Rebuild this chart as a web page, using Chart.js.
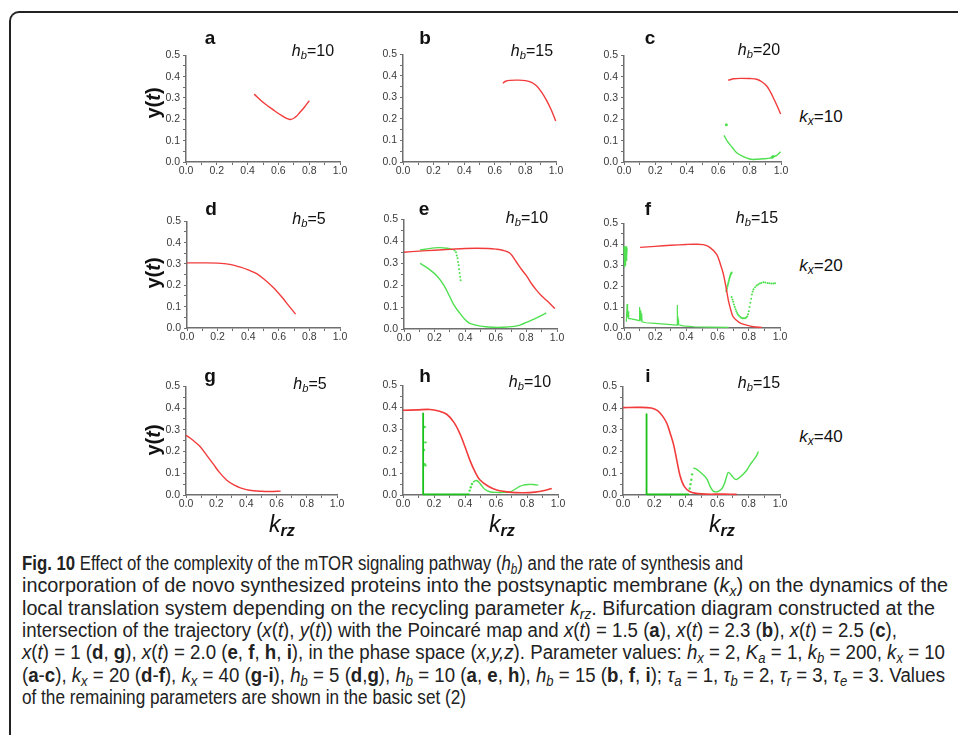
<!DOCTYPE html>
<html>
<head>
<meta charset="utf-8">
<script src="https://cdn.jsdelivr.net/npm/chart.js"></script>
<style>
body { margin:0; width:958px; height:735px; position:relative; overflow:hidden; background:#fff; font-family:"Liberation Sans", Arial, sans-serif; color:#111; }
.frame { position:absolute; left:9px; top:11px; width:990px; height:780px; border-top:2px solid #222; border-left:2px solid #222; border-top-left-radius:10px; }
canvas { position:absolute; }
.lbl { position:absolute; white-space:nowrap; line-height:1; transform:translate(-50%,-50%); }
.let { font-weight:bold; font-size:19px; }
.hb { font-size:16px; }
.kx { font-size:17px; }
.yt { font-size:20px; font-weight:bold; transform:translate(-50%,-50%) rotate(-90deg); }
.krz { font-size:23px; }
.lbl sub { font-size:0.7em; vertical-align:-0.3em; line-height:0; }
.cap { position:absolute; left:22px; height:22px; line-height:22px; font-family:"Liberation Sans Narrow","Liberation Sans",sans-serif; font-size:20px; color:#222; white-space:nowrap; transform-origin:0 50%; }
.cap sub { font-size:0.7em; vertical-align:-0.25em; line-height:0; }
</style>
</head>
<body>
<div class="frame"></div>

<script>
// values: [k_rz, y(t)]
const aRed = [[0.443,0.318],[0.5,0.28],[0.567,0.244],[0.62,0.218],[0.675,0.199],[0.71,0.21],[0.74,0.233],[0.77,0.258],[0.80,0.287]];

const bRed = [[0.652,0.366],[0.67,0.375],[0.70,0.379],[0.75,0.38],[0.80,0.378],[0.84,0.37],[0.874,0.353],[0.91,0.32],[0.94,0.284],[0.97,0.24],[0.998,0.19]];

const cRed = [[0.664,0.383],[0.70,0.39],[0.739,0.392],[0.80,0.391],[0.845,0.388],[0.88,0.375],[0.909,0.356],[0.935,0.325],[0.955,0.295],[0.977,0.26],[0.998,0.225]];
const cGreen = [[0.637,0.125],[0.66,0.095],[0.69,0.068],[0.718,0.043],[0.76,0.025],[0.8,0.014],[0.824,0.012],[0.887,0.015],[0.93,0.018],[0.947,0.024],[0.97,0.03],[0.998,0.048]];
const cGreenDots = [[0.652,0.175],[0.944,0.022],[0.95,0.026]];

const dRed = [[0,0.305],[0.1,0.305],[0.2,0.304],[0.28,0.298],[0.35,0.285],[0.4,0.272],[0.455,0.255],[0.51,0.225],[0.564,0.19],[0.62,0.145],[0.67,0.1],[0.71,0.065]];

const eRed = [[0,0.35],[0.1,0.355],[0.2,0.359],[0.3,0.363],[0.4,0.367],[0.475,0.368],[0.55,0.367],[0.6,0.364],[0.65,0.358],[0.693,0.345],[0.73,0.31],[0.77,0.27],[0.8,0.243],[0.835,0.205],[0.867,0.176],[0.9,0.15],[0.94,0.125],[0.987,0.093]];
const eGreenUp = [[0.105,0.36],[0.15,0.365],[0.2,0.37],[0.235,0.371],[0.28,0.368],[0.322,0.362]];
const eGreenDrop = [[0.33,0.358],[0.34,0.35],[0.345,0.335],[0.35,0.322],[0.353,0.305],[0.357,0.29],[0.36,0.272],[0.363,0.255],[0.367,0.238],[0.37,0.222]];
const eGreenLow = [[0.105,0.299],[0.15,0.28],[0.214,0.243],[0.26,0.2],[0.3,0.146],[0.33,0.105],[0.366,0.071],[0.4,0.042],[0.43,0.026],[0.5,0.013],[0.58,0.008],[0.648,0.008],[0.72,0.012],[0.758,0.018],[0.8,0.03],[0.85,0.045],[0.93,0.073]];

const fRed = [[0.103,0.385],[0.2,0.39],[0.3,0.395],[0.4,0.399],[0.45,0.4],[0.508,0.398],[0.55,0.385],[0.594,0.352],[0.62,0.3],[0.637,0.258],[0.655,0.19],[0.669,0.132],[0.685,0.085],[0.70,0.053],[0.74,0.026],[0.786,0.014],[0.83,0.006],[0.883,0.003]];
const fGreenBlock = [[0.0,0.39],[0.003,0.29],[0.005,0.385],[0.007,0.3],[0.009,0.39],[0.011,0.31],[0.013,0.38],[0.015,0.32],[0.017,0.39],[0.019,0.34],[0.02,0.38]];
const fGreenLow = [[0.015,0.03],[0.02,0.115],[0.023,0.05],[0.026,0.08],[0.03,0.045],[0.04,0.045],[0.07,0.04],[0.1,0.035],[0.1,0.1],[0.104,0.04],[0.107,0.085],[0.11,0.035],[0.113,0.07],[0.116,0.03],[0.14,0.025],[0.2,0.022],[0.3,0.016],[0.34,0.014],[0.34,0.11],[0.344,0.02],[0.347,0.04],[0.35,0.015],[0.38,0.01],[0.45,0.006],[0.55,0.004],[0.67,0.003]];
const fGreenArc = [[0.655,0.175],[0.658,0.183],[0.66,0.19],[0.663,0.198],[0.665,0.205],[0.668,0.213],[0.67,0.22],[0.673,0.228],[0.675,0.235],[0.678,0.242],[0.68,0.248],[0.683,0.254],[0.685,0.258],[0.688,0.262],[0.69,0.265]];
const fGreenRight = [[0.69,0.148],[0.695,0.136],[0.7,0.125],[0.705,0.112],[0.71,0.1],[0.715,0.09],[0.72,0.08],[0.725,0.072],[0.73,0.065],[0.737,0.058],[0.745,0.052],[0.752,0.049],[0.76,0.047],[0.768,0.046],[0.776,0.046],[0.783,0.05],[0.79,0.055],[0.795,0.066],[0.8,0.08],[0.805,0.1],[0.81,0.12],[0.815,0.14],[0.82,0.16],[0.825,0.174],[0.83,0.185],[0.84,0.195],[0.85,0.203],[0.86,0.208],[0.87,0.212],[0.88,0.215],[0.893,0.218],[0.905,0.217],[0.92,0.215],[0.932,0.214],[0.945,0.213],[0.957,0.213],[0.968,0.214]];

const gRed = [[0,0.275],[0.04,0.255],[0.09,0.225],[0.14,0.18],[0.18,0.143],[0.22,0.105],[0.27,0.068],[0.32,0.045],[0.36,0.033],[0.42,0.022],[0.5,0.017],[0.56,0.016],[0.627,0.018]];

const hRed = [[0,0.386],[0.09,0.388],[0.174,0.39],[0.23,0.383],[0.282,0.368],[0.33,0.33],[0.368,0.278],[0.4,0.22],[0.432,0.158],[0.465,0.105],[0.497,0.068],[0.55,0.04],[0.605,0.023],[0.7,0.012],[0.777,0.01],[0.85,0.013],[0.92,0.022],[0.96,0.03]];
const hGreenVert = [[0.13,0],[0.13,0.375]];
const hGreenFlat = [[0.13,0.003],[0.43,0.003]];
const hGreenDots = [[0.14,0.31],[0.145,0.24],[0.135,0.205],[0.14,0.14],[0.145,0.135],[0.43,0.02],[0.437,0.035],[0.445,0.05]];
const hGreenBump = [[0.452,0.058],[0.462,0.063],[0.475,0.066],[0.49,0.058],[0.51,0.04],[0.53,0.025],[0.56,0.015],[0.6,0.012],[0.65,0.012],[0.69,0.014],[0.72,0.025],[0.75,0.038],[0.776,0.045],[0.81,0.048],[0.84,0.048],[0.873,0.045]];

const iRed = [[0,0.402],[0.1,0.403],[0.18,0.4],[0.22,0.388],[0.25,0.365],[0.279,0.33],[0.3,0.285],[0.321,0.235],[0.34,0.17],[0.363,0.09],[0.39,0.04],[0.427,0.015],[0.5,0.005],[0.64,0.004],[0.724,0.003]];
const iGreenVert = [[0.15,0],[0.15,0.375]];
const iGreenFlat = [[0.15,0.003],[0.42,0.003]];
const iGreenDots = [[0.425,0.03],[0.43,0.05],[0.435,0.07],[0.44,0.095]];
const iGreenCurve = [[0.448,0.125],[0.47,0.118],[0.5,0.1],[0.533,0.075],[0.555,0.04],[0.575,0.018],[0.6,0.015],[0.625,0.025],[0.645,0.05],[0.66,0.085],[0.671,0.104],[0.69,0.092],[0.71,0.075],[0.724,0.072],[0.75,0.085],[0.788,0.114],[0.81,0.14],[0.83,0.159],[0.85,0.18],[0.862,0.2]];

const panelLetters = ["a","b","c","d","e","f","g","h","i"];
const hbValues = [10, 15, 20, 5, 10, 15, 5, 10, 15];
const kxValues = [10, 20, 40];

const RED = "#f23c3c";
const GREEN = "#4ee04e";
const DKGREEN = "#18c018";

function line(d, color, width, smooth) {
    return {
        data: d.map(p => ({ x: p[0], y: p[1] })),
        showLine: true,
        borderColor: color,
        borderWidth: width || 1.4,
        pointRadius: 0,
        tension: smooth === false ? 0 : 0.35,
        clip: false
    };
}
function dots(d, color, r) {
    return {
        data: d.map(p => ({ x: p[0], y: p[1] })),
        showLine: false,
        backgroundColor: color,
        borderWidth: 0,
        pointRadius: r || 1,
        clip: false
    };
}

// plot area boxes in page pixels
const panels = [
    { l:186, t:54,  w:154, h:108, sets:[line(aRed, RED)] },
    { l:403, t:53,  w:153, h:109, sets:[line(bRed, RED)] },
    { l:624, t:54,  w:157, h:108, sets:[line(cRed, RED), line(cGreen, GREEN), dots(cGreenDots, GREEN, 1.5)] },
    { l:187, t:220, w:153, h:108, sets:[line(dRed, RED)] },
    { l:404, t:218, w:153, h:111, sets:[line(eRed, RED), line(eGreenUp, GREEN), dots(eGreenDrop, GREEN, 1), line(eGreenLow, GREEN)] },
    { l:624, t:222, w:156, h:106, sets:[line(fGreenBlock, GREEN, 1.3, false), line(fGreenLow, GREEN, 1.2, false), line(fRed, RED),
                                        dots(fGreenArc, GREEN, 1), dots(fGreenRight, GREEN, 1)] },
    { l:186, t:385, w:151, h:110, sets:[line(gRed, RED)] },
    { l:403, t:384, w:155, h:111, sets:[line(hRed, RED, 1.6), line(hGreenVert, DKGREEN, 1.8, false), line(hGreenFlat, DKGREEN, 1.8, false),
                                        dots(hGreenDots, GREEN, 1.2), line(hGreenBump, GREEN)] },
    { l:623, t:385, w:157, h:110, sets:[line(iRed, RED, 1.6), line(iGreenVert, DKGREEN, 1.8, false), line(iGreenFlat, DKGREEN, 1.8, false),
                                        dots(iGreenDots, GREEN, 1.2), line(iGreenCurve, GREEN)] }
];

const AXIS = "#6f6f6f";
const tickFont = { family: "Liberation Sans", size: 10.5 };

panels.forEach(function (p, i) {
    const padL = 40, padT = 8, padR = 10, padB = 22;
    const cv = document.createElement("canvas");
    cv.width = p.w + padL + padR;
    cv.height = p.h + padT + padB;
    cv.style.left = (p.l - padL) + "px";
    cv.style.top = (p.t - padT) + "px";
    document.body.appendChild(cv);

    new Chart(cv.getContext("2d"), {
        type: "scatter",
        data: { datasets: p.sets },
        options: {
            responsive: false,
            animation: false,
            events: [],
            layout: { padding: { top: padT, right: padR, left: 0, bottom: 0 } },
            plugins: { legend: { display: false }, tooltip: { enabled: false } },
            scales: {
                x: {
                    type: "linear", min: 0, max: 1,
                    afterFit: s => { s.height = padB; },
                    ticks: {
                        stepSize: 0.1, autoSkip: false, maxRotation: 0, padding: 0,
                        color: "#3a3a3a", font: tickFont,
                        callback: v => (Math.round(v * 10) % 2 === 0 ? v.toFixed(1) : "")
                    },
                    grid: { drawOnChartArea: false, tickLength: 3, color: AXIS },
                    border: { color: AXIS, width: 1.5 }
                },
                y: {
                    min: 0, max: 0.5,
                    afterFit: s => { s.width = padL; },
                    ticks: {
                        stepSize: 0.05, autoSkip: false, padding: 3,
                        color: "#3a3a3a", font: tickFont,
                        callback: v => (Math.round(v * 100) % 10 === 0 ? v.toFixed(1) : "")
                    },
                    grid: { drawOnChartArea: false, tickLength: 3, color: AXIS },
                    border: { color: AXIS, width: 1.5 }
                }
            }
        }
    });
});

function addLabel(cls, html, x, y) {
    const el = document.createElement("div");
    el.className = "lbl " + cls;
    el.innerHTML = html;
    el.style.left = x + "px";
    el.style.top = y + "px";
    document.body.appendChild(el);
}

const letterPos = [[210,37],[425,37],[650,37],[211,208],[424,208],[648,208],[210,375],[425,375],[648,375]];
const hbPos = [[313,51],[532,51],[759,50],[309,219],[527,218],[757,218],[310,384],[530,382],[759,383]];
panelLetters.forEach((t, i) => addLabel("let", t, letterPos[i][0], letterPos[i][1]));
hbValues.forEach((v, i) => addLabel("hb", "<i>h<sub>b</sub></i>=" + v, hbPos[i][0], hbPos[i][1]));
const kxY = [116, 265, 436];
kxValues.forEach((v, i) => addLabel("kx", "<i>k<sub>x</sub></i>=" + v, 821, kxY[i]));
[103, 273, 440].forEach(y => addLabel("yt", "y(<i>t</i>)", 153, y));
[282, 502, 722].forEach(x => addLabel("krz", "<i>k<sub><b>rz</b></sub></i>", x, 524));

const captionLines = [
    "<b>Fig. 10</b> Effect of the complexity of the mTOR signaling pathway (<i>h<sub>b</sub></i>) and the rate of synthesis and",
    "incorporation of de novo synthesized proteins into the postsynaptic membrane (<i>k<sub>x</sub></i>) on the dynamics of the",
    "local translation system depending on the recycling parameter <i>k<sub>rz</sub></i>. Bifurcation diagram constructed at the",
    "intersection of the trajectory (<i>x</i>(<i>t</i>), <i>y</i>(<i>t</i>)) with the Poincaré map and <i>x</i>(<i>t</i>) = 1.5 (<b>a</b>), <i>x</i>(<i>t</i>) = 2.3 (<b>b</b>), <i>x</i>(<i>t</i>) = 2.5 (<b>c</b>),",
    "<i>x</i>(<i>t</i>) = 1 (<b>d</b>, <b>g</b>), <i>x</i>(<i>t</i>) = 2.0 (<b>e</b>, <b>f</b>, <b>h</b>, <b>i</b>), in the phase space (<i>x,y,z</i>). Parameter values: <i>h<sub>x</sub></i> = 2, <i>K<sub>a</sub></i> = 1, <i>k<sub>b</sub></i> = 200, <i>k<sub>x</sub></i> = 10",
    "(<b>a</b>-<b>c</b>), <i>k<sub>x</sub></i> = 20 (<b>d</b>-<b>f</b>), <i>k<sub>x</sub></i> = 40 (<b>g</b>-<b>i</b>), <i>h<sub>b</sub></i> = 5 (<b>d</b>,<b>g</b>), <i>h<sub>b</sub></i> = 10 (<b>a</b>, <b>e</b>, <b>h</b>), <i>h<sub>b</sub></i> = 15 (<b>b</b>, <b>f</b>, <b>i</b>); <i>τ<sub>a</sub></i> = 1, <i>τ<sub>b</sub></i> = 2, <i>τ<sub>r</sub></i> = 3, <i>τ<sub>e</sub></i> = 3. Values",
    "of the remaining parameters are shown in the basic set (2)"
];
// right edge of each caption line in the figure (layout only)
const captionRight = [743, 948, 935, 897, 945, 945, 466];
captionLines.forEach((html, i) => {
    const el = document.createElement("div");
    el.className = "cap";
    el.innerHTML = html;
    el.style.top = (552 + i * 22.3) + "px";
    document.body.appendChild(el);
    const w = el.getBoundingClientRect().width;
    el.style.transform = "scaleX(" + ((captionRight[i] - 22) / w) + ")";
});
</script>
</body>
</html>
